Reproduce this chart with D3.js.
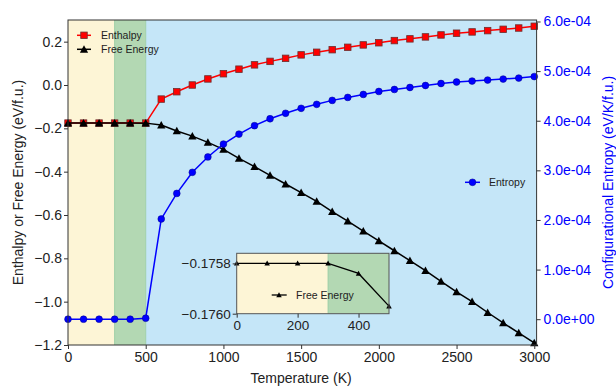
<!DOCTYPE html>
<html><head><meta charset="utf-8">
<script src="https://cdn.jsdelivr.net/npm/d3@7"></script>
<style>
body{margin:0;background:#fff;}
svg{display:block;font-family:"Liberation Sans",Arial,sans-serif;}
</style></head>
<body><svg id="c" width="616" height="387"></svg>
<script>
const temperature = d3.range(0, 3001, 100);
const enthalpy = [-0.1758,-0.1758,-0.1758,-0.1758,-0.1758,-0.1758,
  -0.065,-0.031,0.000,0.028,0.052,0.073,0.093,0.109,0.123,0.139,0.151,0.163,0.174,0.185,
  0.195,0.205,0.213,0.222,0.231,0.239,0.245,0.251,0.257,0.263,0.271];
const freeEnergy = [-0.1758,-0.1758,-0.1758,-0.1758,-0.17584,-0.17597,
  -0.185,-0.212,-0.236,-0.265,-0.297,-0.339,-0.377,-0.417,-0.457,-0.497,-0.537,-0.584,-0.628,-0.674,
  -0.719,-0.765,-0.811,-0.857,-0.906,-0.955,-1.000,-1.050,-1.098,-1.144,-1.190];
const entropy = [0,0,0,0,0,0.02e-4,
  2.02e-4,2.535e-4,2.96e-4,3.27e-4,3.53e-4,3.73e-4,3.90e-4,4.04e-4,4.15e-4,4.25e-4,4.33e-4,4.41e-4,4.47e-4,4.53e-4,
  4.59e-4,4.63e-4,4.67e-4,4.71e-4,4.75e-4,4.78e-4,4.80e-4,4.82e-4,4.84e-4,4.86e-4,4.89e-4];
const xTicks = [0,500,1000,1500,2000,2500,3000];
const yLeftTicks = [-1.2,-1.0,-0.8,-0.6,-0.4,-0.2,0.0,0.2];
const yRightTicks = [0,1e-4,2e-4,3e-4,4e-4,5e-4,6e-4];
const phases = [{x0:0,x1:300,color:"#fdf5d6"},{x0:300,x1:500,color:"#b3d8b3"},{x0:500,x1:3015,color:"#c5e6f8"}];
const insetTemps = temperature.slice(0,6);
const insetFree = freeEnergy.slice(0,6);
const insetXTicks = [0,200,400];
const insetYTicks = [-0.1758,-0.1760];

const svg = d3.select("#c");
const L=68, R=536.6, T=20, B=345;
const x = d3.scaleLinear().domain([0,3015]).range([L,R]);
const y = d3.scaleLinear().domain([-1.2,0.3]).range([B,T]);
const y2 = d3.scaleLinear().domain([-0.52e-4,6.03e-4]).range([B,T]);
const axisCol="#333", txtCol="#222";

// phase backgrounds
phases.forEach(p=>{
  svg.append("rect").attr("x",x(p.x0)).attr("y",T).attr("width",x(p.x1)-x(p.x0)).attr("height",B-T).attr("fill",p.color);
});
[300,500].forEach(v=>svg.append("line").attr("x1",x(v)).attr("x2",x(v)).attr("y1",T).attr("y2",B).attr("stroke","#9fcfa6").attr("stroke-width",1));

function sq(g,data,xs,ys,s,fill,stroke){
  g.selectAll(null).data(data).enter().append("rect")
   .attr("x",d=>xs(d[0])-s/2).attr("y",d=>ys(d[1])-s/2).attr("width",s).attr("height",s)
   .attr("fill",fill).attr("stroke",stroke).attr("stroke-width",0.8);
}
function tri(g,data,xs,ys,s,fill){
  g.selectAll(null).data(data).enter().append("path")
   .attr("d",d=>{const cx=xs(d[0]),cy=ys(d[1]);return `M${cx},${cy-s*0.55}L${cx+s*0.55},${cy+s*0.45}L${cx-s*0.55},${cy+s*0.45}Z`;})
   .attr("fill",fill);
}
function circ(g,data,xs,ys,r,fill){
  g.selectAll(null).data(data).enter().append("circle")
   .attr("cx",d=>xs(d[0])).attr("cy",d=>ys(d[1])).attr("r",r).attr("fill",fill).attr("stroke","#00008b").attr("stroke-width",0.5);
}

const dH = temperature.map((t,i)=>[t,enthalpy[i]]);
const dG = temperature.map((t,i)=>[t,freeEnergy[i]]);
const dS = temperature.map((t,i)=>[t,entropy[i]]);
const line = (xs,ys)=>d3.line().x(d=>xs(d[0])).y(d=>ys(d[1]));

const g1 = svg.append("g");
g1.append("path").attr("d",line(x,y)(dH)).attr("fill","none").attr("stroke","#ff0000").attr("stroke-width",1.5);
sq(g1,dH,x,y,6.5,"#ff0000","#6b3030");
g1.append("path").attr("d",line(x,y)(dG)).attr("fill","none").attr("stroke","#000").attr("stroke-width",1.5);
tri(g1,dG,x,y,7.5,"#000");

const g2 = svg.append("g");
g2.append("path").attr("d",line(x,y2)(dS)).attr("fill","none").attr("stroke","#0000ff").attr("stroke-width",1.5);
circ(g2,dS,x,y2,3.4,"#0000ff");

// frame
svg.append("rect").attr("x",L).attr("y",T).attr("width",R-L).attr("height",B-T).attr("fill","none").attr("stroke",axisCol).attr("stroke-width",1);

// axes
const fmtL = d3.format(".1f");
const fmtR = d=>{ if(d===0) return "0.0e+00"; const e=Math.floor(Math.log10(Math.abs(d))+1e-9); const m=d/Math.pow(10,e); return m.toFixed(1)+"e"+(e<0?"-":"+")+String(Math.abs(e)).padStart(2,"0"); };
function styleAxis(g,col,fs){
  g.select(".domain").remove();
  g.selectAll("line").attr("stroke",axisCol);
  g.selectAll("text").attr("fill",col).style("font-size",fs+"px").style("font-family","'Liberation Sans',Arial,sans-serif");
}
const ax = svg.append("g").attr("transform",`translate(0,${B})`).call(d3.axisBottom(x).tickValues(xTicks).tickFormat(d3.format("d")).tickSize(4).tickPadding(3));
styleAxis(ax,txtCol,14);
const ay = svg.append("g").attr("transform",`translate(${L},0)`).call(d3.axisLeft(y).tickValues(yLeftTicks).tickFormat(fmtL).tickSize(4).tickPadding(2));
styleAxis(ay,txtCol,14);
const ay2 = svg.append("g").attr("transform",`translate(${R},0)`).call(d3.axisRight(y2).tickValues(yRightTicks).tickFormat(fmtR).tickSize(4).tickPadding(3));
styleAxis(ay2,"#0000ff",14);

svg.append("text").attr("x",x(1500)).attr("y",383).attr("text-anchor","middle").attr("fill",txtCol).style("font-size","14px").text("Temperature (K)");
svg.append("text").attr("transform",`translate(23,${(T+B)/2}) rotate(-90)`).attr("text-anchor","middle").attr("fill",txtCol).style("font-size","14px").text("Enthalpy or Free Energy (eV/f.u.)");
svg.append("text").attr("transform",`translate(613,${(T+B)/2}) rotate(-90)`).attr("text-anchor","middle").attr("fill","#0000ff").style("font-size","14px").text("Configurational Entropy (eV/K/f.u.)");

// legends
const lg = svg.append("g");
lg.append("line").attr("x1",77).attr("x2",91).attr("y1",35.3).attr("y2",35.3).attr("stroke","#ff0000").attr("stroke-width",1.5);
sq(lg,[[84,35.3]],d=>d,d=>d,6.5,"#ff0000","#6b3030");
lg.append("text").attr("x",101).attr("y",39).attr("fill",txtCol).style("font-size","10.5px").text("Enthalpy");
lg.append("line").attr("x1",77).attr("x2",91).attr("y1",49.3).attr("y2",49.3).attr("stroke","#000").attr("stroke-width",1.5);
tri(lg,[[84,49.3]],d=>d,d=>d,7.5,"#000");
lg.append("text").attr("x",101).attr("y",53).attr("fill",txtCol).style("font-size","10.5px").text("Free Energy");
lg.append("line").attr("x1",465).attr("x2",480).attr("y1",182.3).attr("y2",182.3).attr("stroke","#0000ff").attr("stroke-width",1.5);
circ(lg,[[472.5,182.3]],d=>d,d=>d,3.4,"#0000ff");
lg.append("text").attr("x",489).attr("y",186).attr("fill",txtCol).style("font-size","10.5px").text("Entropy");

// inset
const iL=236.7, iR=389, iT=253.3, iB=313.7;
const xi = d3.scaleLinear().domain([0,500]).range([iL,iR]);
const yi = d3.scaleLinear().domain([-0.1760,-0.17576]).range([iB,iT]);
const gi = svg.append("g");
gi.append("rect").attr("x",iL).attr("y",iT).attr("width",iR-iL).attr("height",iB-iT).attr("fill","#c5e6f8");
phases.slice(0,2).forEach(p=>{
  gi.append("rect").attr("x",xi(p.x0)).attr("y",iT).attr("width",xi(Math.min(p.x1,500))-xi(p.x0)).attr("height",iB-iT).attr("fill",p.color);
});
gi.append("line").attr("x1",xi(300)).attr("x2",xi(300)).attr("y1",iT).attr("y2",iB).attr("stroke","#9fcfa6");
const dI = insetTemps.map((t,i)=>[t,insetFree[i]]);
gi.append("path").attr("d",line(xi,yi)(dI)).attr("fill","none").attr("stroke","#000").attr("stroke-width",1.3);
tri(gi,dI,xi,yi,5,"#000");
gi.append("rect").attr("x",iL).attr("y",iT).attr("width",iR-iL).attr("height",iB-iT).attr("fill","none").attr("stroke","#555").attr("stroke-width",1);
const aix = gi.append("g").attr("transform",`translate(0,${iB})`).call(d3.axisBottom(xi).tickValues(insetXTicks).tickFormat(d3.format("d")).tickSize(4).tickPadding(3));
styleAxis(aix,txtCol,13.5);
const aiy = gi.append("g").attr("transform",`translate(${iL},0)`).call(d3.axisLeft(yi).tickValues(insetYTicks).tickFormat(d3.format(".4f")).tickSize(4).tickPadding(2));
styleAxis(aiy,txtCol,13.5);
gi.append("line").attr("x1",271.7).attr("x2",286.7).attr("y1",295).attr("y2",295).attr("stroke","#000").attr("stroke-width",1.3);
tri(gi,[[279,295]],d=>d,d=>d,5,"#000");
gi.append("text").attr("x",296).attr("y",298.7).attr("fill",txtCol).style("font-size","10.5px").text("Free Energy");
</script></body></html>
